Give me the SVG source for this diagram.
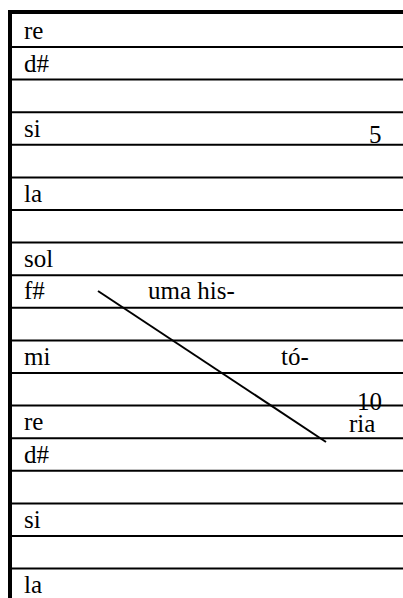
<svg xmlns="http://www.w3.org/2000/svg" width="403" height="598" viewBox="0 0 403 598">
<style>
.t{font-family:"Liberation Serif","Times New Roman",serif;font-size:25px;fill:#000}
.l{stroke:#000;stroke-width:2}
</style>
<rect width="403" height="598" fill="#fff"/>
<g id="staff">
<line x1="8" y1="12" x2="403" y2="12" stroke="#000" stroke-width="4"/>
<line x1="10" y1="10" x2="10" y2="598" stroke="#000" stroke-width="4"/>
<line class="l" x1="10" y1="47" x2="403" y2="47"/>
<line class="l" x1="10" y1="79.6" x2="403" y2="79.6"/>
<line class="l" x1="10" y1="112.2" x2="403" y2="112.2"/>
<line class="l" x1="10" y1="144.8" x2="403" y2="144.8"/>
<line class="l" x1="10" y1="177.4" x2="403" y2="177.4"/>
<line class="l" x1="10" y1="210" x2="403" y2="210"/>
<line class="l" x1="10" y1="242.6" x2="403" y2="242.6"/>
<line class="l" x1="10" y1="275.2" x2="403" y2="275.2"/>
<line class="l" x1="10" y1="307.8" x2="403" y2="307.8"/>
<line class="l" x1="10" y1="340.4" x2="403" y2="340.4"/>
<line class="l" x1="10" y1="373" x2="403" y2="373"/>
<line class="l" x1="10" y1="405.6" x2="403" y2="405.6"/>
<line class="l" x1="10" y1="438.2" x2="403" y2="438.2"/>
<line class="l" x1="10" y1="470.8" x2="403" y2="470.8"/>
<line class="l" x1="10" y1="503.4" x2="403" y2="503.4"/>
<line class="l" x1="10" y1="536" x2="403" y2="536"/>
<line class="l" x1="10" y1="568.6" x2="403" y2="568.6"/>
</g>
<g id="labels">
<text class="t" x="24" y="39">re</text>
<text class="t" x="24" y="72">d#</text>
<text class="t" x="24" y="137">si</text>
<text class="t" x="24" y="202">la</text>
<text class="t" x="24" y="267">sol</text>
<text class="t" x="24" y="299">f#</text>
<text class="t" x="24" y="365">mi</text>
<text class="t" x="24" y="430">re</text>
<text class="t" x="24" y="463">d#</text>
<text class="t" x="24" y="528">si</text>
<text class="t" x="24" y="593">la</text>
</g>
<g id="numbers">
<text class="t" x="369" y="143">5</text>
<text class="t" x="357" y="410">10</text>
</g>
<g id="lyrics">
<text class="t" x="148" y="299">uma his-</text>
<text class="t" x="281" y="365">tó-</text>
<text class="t" x="349" y="432">ria</text>
</g>
<g id="connectors">
<line x1="98" y1="291" x2="326" y2="442" stroke="#000" stroke-width="2"/>
</g>
</svg>
